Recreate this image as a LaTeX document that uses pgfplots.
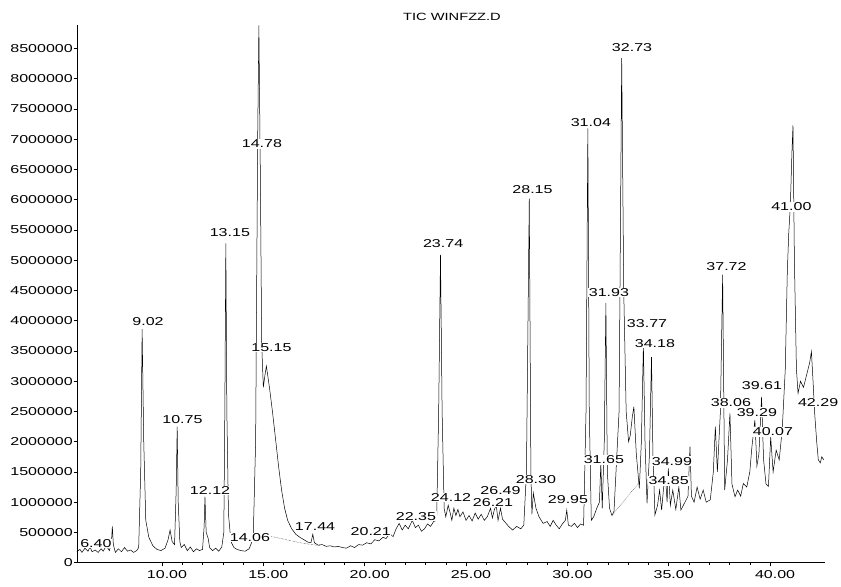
\documentclass[border=0pt]{standalone}
\usepackage{fontspec}
\setmainfont{Liberation Sans}[FakeStretch=1.4]
\usepackage{pgfplots}
\pgfplotsset{compat=1.18}

% chromatogram trace: time (min), abundance
\pgfplotstableread{
t y
5.80 180000
5.95 220000
6.05 170000
6.20 240000
6.35 190000
6.45 260000
6.55 180000
6.70 210000
6.85 170000
7.00 230000
7.10 190000
7.25 280000
7.40 200000
7.50 300000
7.55 600000
7.60 300000
7.70 170000
7.85 230000
8.00 180000
8.15 250000
8.30 190000
8.45 210000
8.60 170000
8.75 200000
8.85 250000
8.95 1500000
9.02 3860000
9.10 2000000
9.20 700000
9.35 420000
9.55 280000
9.75 220000
9.95 200000
10.15 240000
10.30 380000
10.40 540000
10.50 350000
10.62 300000
10.70 1200000
10.75 2250000
10.80 1000000
10.88 350000
10.95 250000
11.10 300000
11.25 200000
11.40 260000
11.55 180000
11.70 230000
11.85 200000
12.00 220000
12.08 600000
12.12 1090000
12.18 500000
12.28 400000
12.35 250000
12.50 200000
12.65 240000
12.80 190000
12.95 260000
13.05 500000
13.10 2500000
13.15 5280000
13.20 2500000
13.28 800000
13.40 350000
13.55 250000
13.70 220000
13.90 200000
14.10 190000
14.30 230000
14.50 400000
14.62 2000000
14.72 7000000
14.78 8880000
14.85 6500000
14.92 3600000
15.00 2900000
15.08 3100000
15.15 3250000
15.30 2900000
15.45 2500000
15.60 2050000
15.75 1600000
15.90 1200000
16.05 900000
16.20 700000
16.40 560000
16.60 470000
16.80 420000
17.00 380000
17.20 340000
17.35 330000
17.44 470000
17.52 330000
17.70 290000
17.90 300000
18.10 270000
18.30 280000
18.50 260000
18.70 270000
18.90 250000
19.10 240000
19.30 280000
19.50 250000
19.70 300000
19.90 290000
20.10 330000
20.30 310000
20.50 380000
20.70 360000
20.90 420000
21.05 400000
21.25 480000
21.40 430000
21.55 560000
21.70 650000
21.85 540000
22.00 620000
22.15 560000
22.35 700000
22.50 580000
22.65 620000
22.80 520000
22.95 560000
23.10 640000
23.25 600000
23.40 680000
23.55 700000
23.65 2500000
23.74 5090000
23.82 2500000
23.92 900000
24.00 760000
24.12 950000
24.22 820000
24.30 700000
24.40 900000
24.50 780000
24.60 880000
24.70 760000
24.85 840000
25.00 700000
25.15 780000
25.30 690000
25.45 820000
25.60 720000
25.75 800000
25.90 700000
26.05 760000
26.21 900000
26.30 740000
26.40 880000
26.49 950000
26.58 700000
26.70 900000
26.80 720000
26.95 660000
27.10 600000
27.30 540000
27.50 600000
27.70 560000
27.85 620000
27.98 1500000
28.12 6020000
28.20 1500000
28.25 800000
28.32 1150000
28.45 900000
28.60 760000
28.80 650000
29.00 680000
29.15 600000
29.30 700000
29.45 620000
29.60 560000
29.75 640000
29.90 700000
29.97 870000
30.05 620000
30.20 600000
30.35 650000
30.50 580000
30.65 640000
30.80 620000
30.92 2500000
31.01 7180000
31.08 2500000
31.18 700000
31.30 760000
31.45 900000
31.58 1000000
31.65 1640000
31.72 900000
31.82 2000000
31.90 4290000
31.97 1500000
32.08 900000
32.20 780000
32.30 850000
32.55 2500000
32.68 8340000
32.78 4500000
32.90 2500000
33.02 2000000
33.10 2100000
33.20 2400000
33.28 2580000
33.40 1800000
33.55 1230000
33.65 2000000
33.75 3600000
33.83 2000000
33.93 980000
34.05 1800000
34.15 3400000
34.22 1800000
34.32 790000
34.45 950000
34.55 1200000
34.65 870000
34.75 1250000
34.85 1370000
34.92 1000000
34.98 1560000
35.08 950000
35.20 1200000
35.35 880000
35.50 1250000
35.60 870000
35.80 1000000
35.95 1100000
36.05 1920000
36.12 1100000
36.25 1000000
36.40 1250000
36.55 1050000
36.70 1200000
36.85 1000000
37.05 1040000
37.20 1500000
37.30 2250000
37.40 1500000
37.55 2500000
37.66 4760000
37.76 1200000
37.90 1700000
38.02 2470000
38.12 1300000
38.27 1090000
38.40 1200000
38.55 1100000
38.68 1310000
38.85 1250000
39.00 1500000
39.10 1900000
39.25 2360000
39.35 1600000
39.45 1800000
39.58 2740000
39.68 1700000
39.80 1300000
39.92 1260000
40.03 2080000
40.15 1500000
40.30 1860000
40.45 1700000
40.60 2200000
40.75 3200000
40.85 4800000
40.92 5440000
41.00 5900000
41.08 6800000
41.13 7230000
41.20 5000000
41.30 3200000
41.38 2800000
41.50 3000000
41.65 2900000
41.80 3100000
41.95 3300000
42.04 3490000
42.12 3000000
42.20 2470000
42.30 2000000
42.38 1700000
42.48 1650000
42.55 1750000
42.65 1700000
}\tic

\newcommand\lab{\fontsize{11.5}{13}\selectfont}

\begin{document}
\begin{tikzpicture}
\begin{axis}[
  at={(0,0)}, anchor=south west,
  scale only axis,
  width=748bp, height=537.7bp,
  xmin=5.807, xmax=42.71,
  ymin=0, ymax=8888000,
  axis lines=left,
  axis line style={-, line width=0.5bp},
  clip=false,
  xtick={10,15,20,25,30,35,40},
  minor x tick num=4,
  ytick={500000,1000000,...,8500000},
  scaled y ticks=false,
  tick align=outside,
  major tick length=3bp, minor tick length=2bp,
  tick style={line width=0.5bp, black},
  xticklabel style={font=\lab, xshift=5bp, yshift=-1bp,
    /pgf/number format/fixed, /pgf/number format/fixed zerofill,
    /pgf/number format/precision=2, /pgf/number format/assume math mode=true},
  yticklabel style={font=\lab, inner sep=1bp,
    /pgf/number format/fixed, /pgf/number format/1000 sep={},
    /pgf/number format/assume math mode=true},
]
\addplot[black, line width=0.5bp] table[x=t, y=y] {\tic};

% integration baselines
\addplot[black, densely dotted, line width=0.4bp] coordinates {(15.2,450000) (16.8,330000) (17.8,280000)};
\addplot[black, densely dotted, line width=0.4bp] coordinates {(32.25,800000) (33.6,1350000)};

\begin{scope}[every node/.style={font=\lab, fill=white, inner sep=0.6bp}]
\node at (axis cs:6.74,320000) {6.40};
\node at (axis cs:9.31,3980000) {9.02};
\node at (axis cs:11.01,2360000) {10.75};
\node at (axis cs:12.37,1190000) {12.12};
\node at (axis cs:13.35,5450000) {13.15};
\node at (axis cs:14.34,420000) {14.06};
\node at (axis cs:14.93,6920000) {14.78};
\node at (axis cs:15.40,3560000) {15.15};
\node at (axis cs:17.55,600000) {17.44};
\node at (axis cs:20.30,520000) {20.21};
\node at (axis cs:22.53,770000) {22.35};
\node at (axis cs:23.87,5280000) {23.74};
\node at (axis cs:24.26,1080000) {24.12};
\node at (axis cs:26.33,1000000) {26.21};
\node at (axis cs:26.70,1200000) {26.49};
\node at (axis cs:28.28,6160000) {28.15};
\node at (axis cs:28.45,1380000) {28.30};
\node at (axis cs:30.03,1040000) {29.95};
\node at (axis cs:31.16,7280000) {31.04};
\node at (axis cs:31.80,1700000) {31.65};
\node at (axis cs:32.05,4470000) {31.93};
\node at (axis cs:33.19,8520000) {32.73};
\node at (axis cs:33.93,3960000) {33.77};
\node at (axis cs:34.32,3630000) {34.18};
\node at (axis cs:35.00,1350000) {34.85};
\node at (axis cs:35.16,1680000) {34.99};
\node at (axis cs:37.85,4890000) {37.72};
\node at (axis cs:38.07,2640000) {38.06};
\node at (axis cs:39.60,2930000) {39.61};
\node at (axis cs:39.35,2490000) {39.29};
\node at (axis cs:40.14,2160000) {40.07};
\node at (axis cs:41.05,5880000) {41.00};
\node at (axis cs:42.37,2650000) {42.29};
\end{scope}
\end{axis}
% the zero tick and its label at the axis corner (the axis box starts at the origin)
\draw[line width=0.5bp] (0bp,0bp) -- (-3bp,0bp);
\node[font=\lab, anchor=east, inner sep=1bp] at (-3bp,0bp) {0};
\node[font=\fontsize{10.5}{12}\selectfont] at (375bp,545.7bp) {TIC WINFZZ.D};
\pgfresetboundingbox
\path (-77bp,-24.3bp) rectangle (764bp,562.7bp);
\end{tikzpicture}
\end{document}
